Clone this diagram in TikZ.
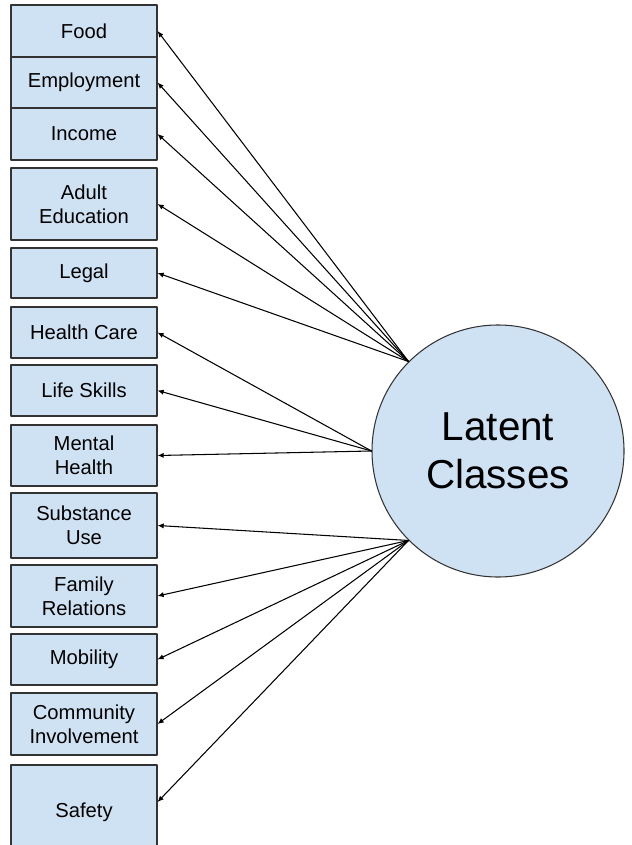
\documentclass[tikz,border=0pt]{standalone}
\usepackage{fontspec}
\setmainfont{Liberation Sans}
\usetikzlibrary{arrows.meta}
\definecolor{boxblue}{HTML}{CFE2F3}
\definecolor{edgegray}{HTML}{333333}
\tikzset{
	indicator/.style={draw=edgegray, fill=boxblue, semithick, minimum width=2.92cm,
		align=center, inner sep=1pt, font=\fontsize{11.5}{13.5}\selectfont},
	latent/.style={circle, draw=edgegray, fill=boxblue, semithick, minimum size=5.04cm,
		align=center, font=\fontsize{23}{27}\selectfont},
}
\begin{document}
\begin{tikzpicture}[>={Latex[length=3.5pt,width=3pt]}, line cap=round, line join=round]
\useasboundingbox (0,0) rectangle (12.62,-16.9);
%========================
% Left: indicators
%========================
\node[indicator, minimum height=1.04cm] (food) at (1.68,-0.62) {Food};
\node[indicator, minimum height=1.02cm] (employ) at (1.68,-1.65) {Employment};
\node[indicator, minimum height=1.04cm] (income) at (1.68,-2.68) {Income};
\node[indicator, minimum height=1.44cm] (adulted) at (1.68,-4.08) {Adult\\Education};
\node[indicator, minimum height=1.00cm] (legal) at (1.68,-5.46) {Legal};
\node[indicator, minimum height=1.02cm] (health) at (1.68,-6.65) {Health Care};
\node[indicator, minimum height=1.02cm] (life) at (1.68,-7.81) {Life Skills};
\node[indicator, minimum height=1.22cm] (mental) at (1.68,-9.11) {Mental\\Health};
\node[indicator, minimum height=1.30cm] (subst) at (1.68,-10.51) {Substance\\Use};
\node[indicator, minimum height=1.24cm] (family) at (1.68,-11.92) {Family\\Relations};
\node[indicator, minimum height=1.02cm] (mobil) at (1.68,-13.19) {Mobility};
\node[indicator, minimum height=1.24cm] (commun) at (1.68,-14.48) {Community\\Involvement};
\node[indicator, minimum height=1.88cm] (safety) at (1.68,-16.24) {Safety};

%========================
% Right: latent variable
%========================
\node[latent] (lc) at (9.96,-9.02) {Latent\\Classes};

% arrows out of the circle
\draw[->, semithick] (lc.135) -- (food.east);
\draw[->, semithick] (lc.135) -- (employ.east);
\draw[->, semithick] (lc.135) -- (income.east);
\draw[->, semithick] (lc.135) -- (adulted.east);
\draw[->, semithick] (lc.135) -- (legal.east);
\draw[->, semithick] (lc.west) -- (health.east);
\draw[->, semithick] (lc.west) -- (life.east);
\draw[->, semithick] (lc.west) -- (mental.east);
\draw[->, semithick] (lc.225) -- (subst.east);
\draw[->, semithick] (lc.225) -- (family.east);
\draw[->, semithick] (lc.225) -- (mobil.east);
\draw[->, semithick] (lc.225) -- (commun.east);
\draw[->, semithick] (lc.225) -- ([yshift=0.2cm]safety.east);
\end{tikzpicture}
\end{document}
